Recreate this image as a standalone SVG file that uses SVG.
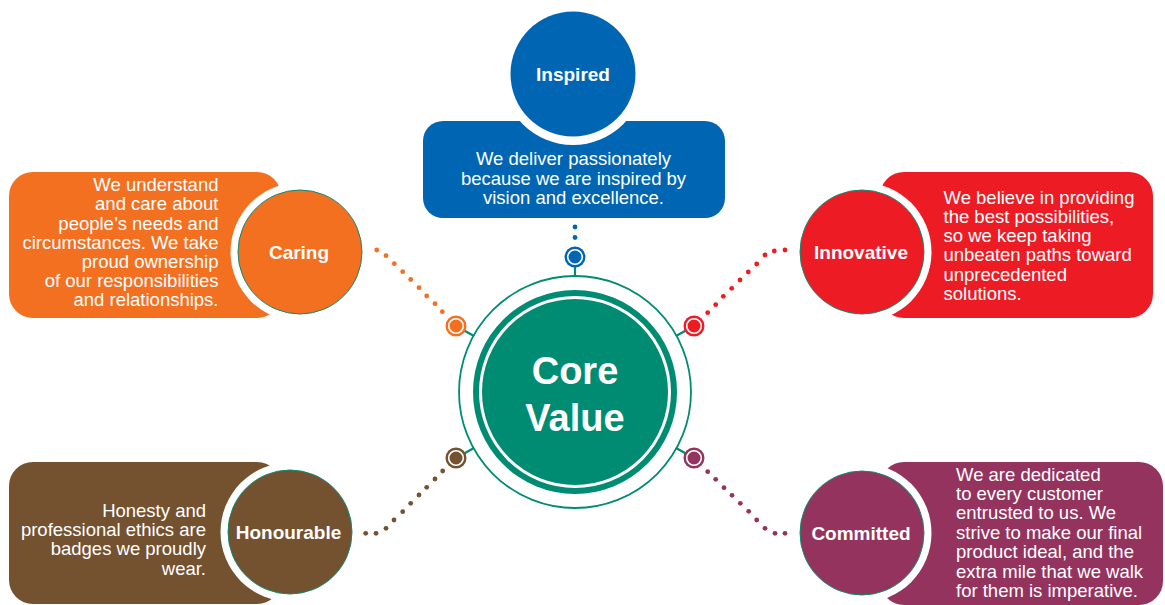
<svg xmlns="http://www.w3.org/2000/svg" width="1165" height="605" viewBox="0 0 1165 605">
  <style>
    .body { font-family: "Liberation Sans", Arial, sans-serif; font-size: 18.5px; fill: #ffffff; }
    .title { font-family: "Liberation Sans", Arial, sans-serif; font-size: 19px; font-weight: bold; fill: #ffffff; text-anchor: middle; }
    .core { font-family: "Liberation Sans", Arial, sans-serif; font-size: 38px; font-weight: bold; fill: #ffffff; text-anchor: middle; }
    .gap { fill: #ffffff; }
    .badge { stroke: #0f8a70; stroke-width: 1; }
    .stem { stroke: #008c72; stroke-width: 2.2; }
    .hubring { fill: none; stroke: #ffffff; stroke-width: 1.6; }
    .right { text-anchor: end; }
  </style>

  <!-- Central hub -->
  <g id="core-value">
    <circle cx="575" cy="392" r="116" fill="#ffffff" stroke="#008c72" stroke-width="1.8"/>
    <circle cx="575" cy="392" r="102" fill="#008c72"/>
    <circle cx="575" cy="392" r="94.5" fill="none" stroke="#ffffff" stroke-width="3"/>
    <text class="core" x="575" y="384">Core</text>
    <text class="core" x="575" y="431">Value</text>
  </g>

  <!-- Connectors: stems, end badges and dotted trails -->
  <g id="connectors">
    <line class="stem" x1="575" y1="257" x2="575" y2="276"/>
    <line class="stem" x1="456" y1="326" x2="474" y2="336"/>
    <line class="stem" x1="694" y1="326" x2="676" y2="336"/>
    <line class="stem" x1="456" y1="458" x2="474" y2="448"/>
    <line class="stem" x1="694" y1="458" x2="676" y2="448"/>

    <g fill="#0066b3">
      <circle cx="575" cy="257" r="10.5"/>
      <circle class="hubring" cx="575" cy="257" r="7.3"/>
      <circle cx="575" cy="227" r="2.4"/>
      <circle cx="575" cy="237.5" r="2.4"/>
    </g>
    <g fill="#f37021">
      <circle cx="456" cy="326" r="10.5"/>
      <circle class="hubring" cx="456" cy="326" r="7.3"/>
      <circle cx="376.7" cy="250" r="2.4"/>
      <circle cx="386" cy="255.7" r="2.4"/>
      <circle cx="394.3" cy="263.7" r="2.4"/>
      <circle cx="402.7" cy="271.7" r="2.4"/>
      <circle cx="410.7" cy="279.5" r="2.4"/>
      <circle cx="419" cy="287.7" r="2.4"/>
      <circle cx="426.7" cy="296" r="2.4"/>
      <circle cx="435" cy="303.7" r="2.4"/>
      <circle cx="442.3" cy="311.7" r="2.4"/>
    </g>
    <g fill="#ed1c24">
      <circle cx="694" cy="326" r="10.5"/>
      <circle class="hubring" cx="694" cy="326" r="7.3"/>
      <circle cx="785" cy="250" r="2.4"/>
      <circle cx="774.3" cy="251" r="2.4"/>
      <circle cx="765" cy="255" r="2.4"/>
      <circle cx="756.7" cy="264" r="2.4"/>
      <circle cx="748.3" cy="272" r="2.4"/>
      <circle cx="740" cy="280" r="2.4"/>
      <circle cx="731.7" cy="288.3" r="2.4"/>
      <circle cx="723.3" cy="296.3" r="2.4"/>
      <circle cx="715.7" cy="304.7" r="2.4"/>
      <circle cx="707.7" cy="312.7" r="2.4"/>
    </g>
    <g fill="#745230">
      <circle cx="456" cy="458" r="10.5"/>
      <circle class="hubring" cx="456" cy="458" r="7.3"/>
      <circle cx="365.7" cy="533.3" r="2.4"/>
      <circle cx="376" cy="533.3" r="2.4"/>
      <circle cx="386" cy="528.3" r="2.4"/>
      <circle cx="394" cy="520" r="2.4"/>
      <circle cx="402.7" cy="511.7" r="2.4"/>
      <circle cx="410.7" cy="503.3" r="2.4"/>
      <circle cx="419" cy="495" r="2.4"/>
      <circle cx="426.7" cy="487.3" r="2.4"/>
      <circle cx="435" cy="479" r="2.4"/>
      <circle cx="442.7" cy="471" r="2.4"/>
    </g>
    <g fill="#94345e">
      <circle cx="694" cy="458" r="10.5"/>
      <circle class="hubring" cx="694" cy="458" r="7.3"/>
      <circle cx="707.7" cy="471.7" r="2.4"/>
      <circle cx="715.7" cy="479.3" r="2.4"/>
      <circle cx="724" cy="487.7" r="2.4"/>
      <circle cx="732" cy="495.3" r="2.4"/>
      <circle cx="740.3" cy="503.3" r="2.4"/>
      <circle cx="748.7" cy="511.3" r="2.4"/>
      <circle cx="756.7" cy="520" r="2.4"/>
      <circle cx="765" cy="528.3" r="2.4"/>
      <circle cx="775" cy="533.3" r="2.4"/>
      <circle cx="785" cy="533.3" r="2.4"/>
    </g>
  </g>

  <!-- Inspired -->
  <g id="inspired">
    <rect x="423" y="121" width="302" height="97" rx="20" fill="#0066b3"/>
    <circle class="gap" cx="573" cy="74" r="71"/>
    <circle cx="573" cy="74" r="62.5" fill="#0066b3"/>
    <text class="title" x="573" y="81">Inspired</text>
    <text class="body" text-anchor="middle" x="573.5" y="165">We deliver passionately</text>
    <text class="body" text-anchor="middle" x="573.5" y="184.5">because we are inspired by</text>
    <text class="body" text-anchor="middle" x="573.5" y="204">vision and excellence.</text>
  </g>

  <!-- Caring -->
  <g id="caring">
    <rect x="9" y="172" width="272" height="146" rx="24" fill="#f37021"/>
    <circle class="gap" cx="300" cy="252" r="69.5"/>
    <circle class="badge" cx="300" cy="252" r="62" fill="#f37021"/>
    <text class="title" x="299" y="259">Caring</text>
    <g class="body right">
      <text x="218.5" y="191">We understand</text>
      <text x="218.5" y="210.3">and care about</text>
      <text x="218.5" y="229.5">people’s needs and</text>
      <text x="218.5" y="248.7">circumstances. We take</text>
      <text x="218.5" y="268">proud ownership</text>
      <text x="218.5" y="287.2">of our responsibilities</text>
      <text x="218.5" y="306.4">and relationships.</text>
    </g>
  </g>

  <!-- Innovative -->
  <g id="innovative">
    <rect x="880" y="172" width="273" height="146" rx="24" fill="#ed1c24"/>
    <circle class="gap" cx="862" cy="252" r="69.5"/>
    <circle class="badge" cx="862" cy="252" r="62" fill="#ed1c24"/>
    <text class="title" x="861" y="258.5">Innovative</text>
    <g class="body">
      <text x="943.5" y="203.5">We believe in providing</text>
      <text x="943.5" y="222.8">the best possibilities,</text>
      <text x="943.5" y="242.1">so we keep taking</text>
      <text x="943.5" y="261.4">unbeaten paths toward</text>
      <text x="943.5" y="280.7">unprecedented</text>
      <text x="943.5" y="300">solutions.</text>
    </g>
  </g>

  <!-- Honourable -->
  <g id="honourable">
    <rect x="9" y="462" width="272" height="142" rx="24" fill="#745230"/>
    <circle class="gap" cx="290" cy="532" r="69.5"/>
    <circle class="badge" cx="290" cy="532" r="62" fill="#745230"/>
    <text class="title" x="288.5" y="538.5">Honourable</text>
    <g class="body right">
      <text x="206" y="516.7">Honesty and</text>
      <text x="206" y="536">professional ethics are</text>
      <text x="206" y="555.3">badges we proudly</text>
      <text x="206" y="574.6">wear.</text>
    </g>
  </g>

  <!-- Committed -->
  <g id="committed">
    <rect x="880" y="462" width="283" height="143" rx="24" fill="#94345e"/>
    <circle class="gap" cx="862" cy="533" r="69.5"/>
    <circle class="badge" cx="862" cy="533" r="62" fill="#94345e"/>
    <text class="title" x="861" y="539.5">Committed</text>
    <g class="body">
      <text x="956" y="480.5">We are dedicated</text>
      <text x="956" y="499.9">to every customer</text>
      <text x="956" y="519.3">entrusted to us. We</text>
      <text x="956" y="538.7">strive to make our final</text>
      <text x="956" y="558.1">product ideal, and the</text>
      <text x="956" y="577.5">extra mile that we walk</text>
      <text x="956" y="596.9">for them is imperative.</text>
    </g>
  </g>
</svg>
